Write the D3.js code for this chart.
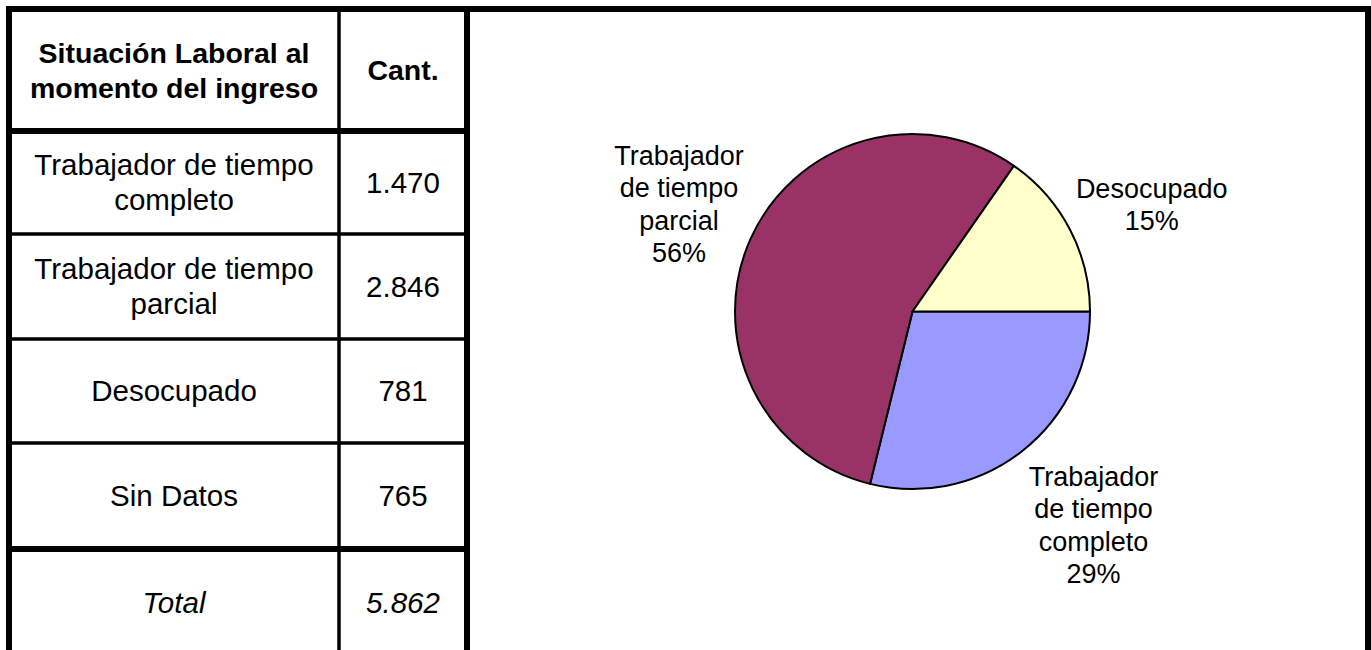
<!DOCTYPE html>
<html>
<head>
<meta charset="utf-8">
<script src="https://cdn.jsdelivr.net/npm/d3@7"></script>
<style>
  html, body { margin: 0; padding: 0; background: #fff; }
  svg { display: block; }
  text { font-family: "Liberation Sans", Arial, sans-serif; fill: #000; }
</style>
</head>
<body>
<script>
// ---------- data ----------
const headerLabel = ["Situación Laboral al", "momento del ingreso"];
const headerValue = "Cant.";
const categories = ["Trabajador de tiempo completo", "Trabajador de tiempo parcial", "Desocupado", "Sin Datos"];
const tableLabelLines = [["Trabajador de tiempo", "completo"], ["Trabajador de tiempo", "parcial"], ["Desocupado"], ["Sin Datos"]];
const counts = [1470, 2846, 781, 765];
const totalLabel = "Total";

// pie uses the first three categories (Sin Datos excluded)
const pieCategories = ["Trabajador de tiempo completo", "Trabajador de tiempo parcial", "Desocupado"];
const pieLabelLines = [["Trabajador", "de tiempo", "completo"], ["Trabajador", "de tiempo", "parcial"], ["Desocupado"]];
const pieColors = ["#9999FF", "#993366", "#FFFFCC"];

// ---------- layout ----------
const W = 1371, H = 650;
const colX = [9, 339, 467, 1368];          // vertical rule centres
const colW = [6, 3.5, 6, 6];
const rowY = [9, 131, 234, 339, 443, 549, 656]; // horizontal rule centres
const rowW = [6, 6, 3.5, 3.5, 3.5, 6, 6];
const tableFont = 29.5, tableBoldFont = 28.5, tableLH = 35;
const pieCx = 912.5, pieCy = 311.5, pieR = 177.5;
const labelFont = 27, labelLH = 32.5;
const labelDist = [280, 257, 262];
const labelAngleNudge = [-2.2, 0.4, 3.5];

const svg = d3.select("body").append("svg").attr("width", W).attr("height", H);

const fmt = d3.formatLocale({decimal: ",", thousands: ".", grouping: [3], currency: ["", ""]}).format(",d");

// ---------- table text ----------
function cellText(lines, cx, cy, opts) {
  const n = lines.length;
  const bold = opts && opts.bold;
  const fs = bold ? tableBoldFont : tableFont;
  const t = svg.append("text")
    .attr("text-anchor", "middle")
    .attr("font-size", fs)
    .attr("font-weight", bold ? "bold" : null)
    .attr("font-style", opts && opts.italic ? "italic" : null);
  lines.forEach((l, i) => {
    t.append("tspan").attr("x", cx)
      .attr("y", cy + (i - (n - 1) / 2) * tableLH + 0.355 * fs)
      .text(l);
  });
}
const c1 = (colX[0] + colX[1]) / 2, c2 = (colX[1] + colX[2]) / 2;
const rowCenter = i => (rowY[i] + rowY[i + 1]) / 2;

cellText(headerLabel, c1, rowCenter(0), {bold: true});
cellText([headerValue], c2, rowCenter(0), {bold: true});
tableLabelLines.forEach((lines, i) => {
  cellText(lines, c1, rowCenter(i + 1));
  cellText([fmt(counts[i])], c2, rowCenter(i + 1));
});
const total = d3.sum(counts);
cellText([totalLabel], c1, rowCenter(5), {italic: true});
cellText([fmt(total)], c2, rowCenter(5), {italic: true});

// ---------- rules ----------
rowY.forEach((y, i) => {
  const x2 = i === 0 ? W : colX[2] + colW[2] / 2;
  svg.append("line")
    .attr("x1", colX[0] - colW[0] / 2).attr("x2", x2)
    .attr("y1", y).attr("y2", y)
    .attr("stroke", "#000").attr("stroke-width", rowW[i]);
});
colX.forEach((x, i) => {
  svg.append("line")
    .attr("x1", x).attr("x2", x)
    .attr("y1", rowY[0] - rowW[0] / 2).attr("y2", H + 10)
    .attr("stroke", "#000").attr("stroke-width", colW[i]);
});

// ---------- pie ----------
const pieValues = counts.slice(0, 3);
const pieSum = d3.sum(pieValues);
const pie = d3.pie().sort(null).startAngle(Math.PI / 2).endAngle(Math.PI / 2 + 2 * Math.PI).value(d => d);
const arcs = pie(pieValues);
const arc = d3.arc().innerRadius(0).outerRadius(pieR);

const g = svg.append("g").attr("transform", `translate(${pieCx},${pieCy})`);
g.selectAll("path").data(arcs).join("path")
  .attr("d", arc)
  .attr("fill", (d, i) => pieColors[i])
  .attr("stroke", "#000")
  .attr("stroke-width", 2)
  .attr("stroke-linejoin", "round");

arcs.forEach((d, i) => {
  const a = (d.startAngle + d.endAngle) / 2 + labelAngleNudge[i] * Math.PI / 180;
  const x = Math.sin(a) * labelDist[i];
  const y = -Math.cos(a) * labelDist[i];
  const lines = pieLabelLines[i].concat([Math.round(d.value / pieSum * 100) + "%"]);
  const n = lines.length;
  const t = g.append("text").attr("text-anchor", "middle").attr("font-size", labelFont);
  lines.forEach((l, j) => {
    t.append("tspan").attr("x", x)
      .attr("y", y + (j - (n - 1) / 2) * labelLH + 0.355 * labelFont)
      .text(l);
  });
});
</script>
</body>
</html>
